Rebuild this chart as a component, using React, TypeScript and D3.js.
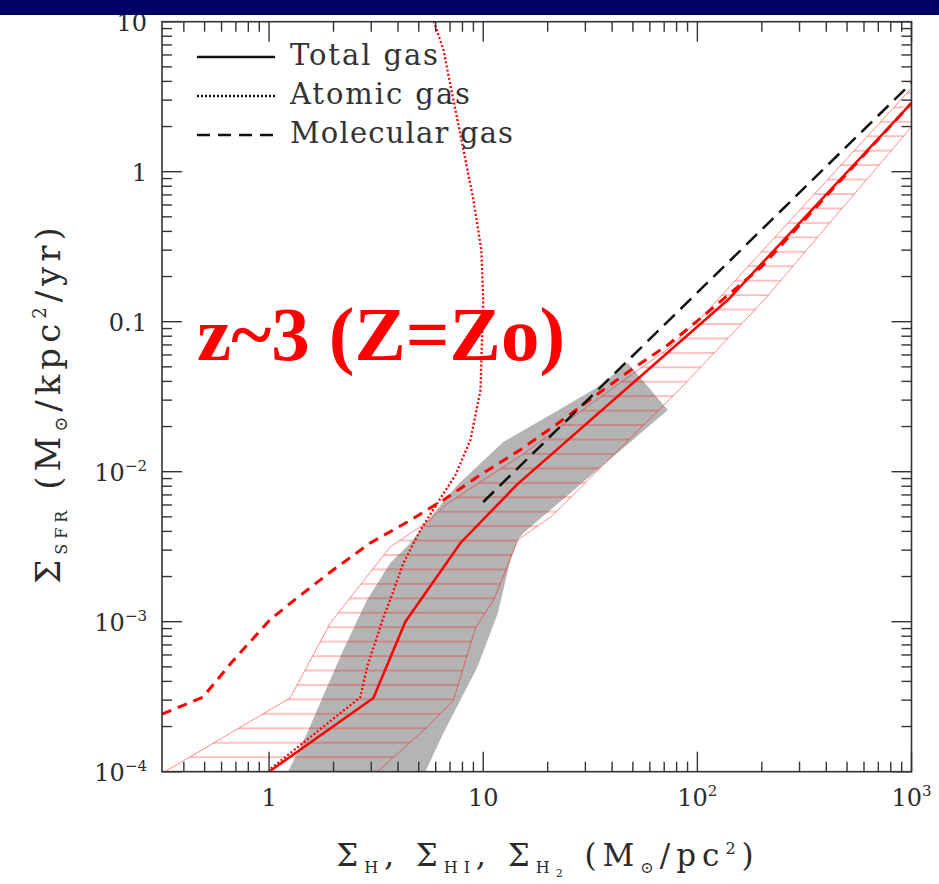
import React from 'react';
import * as d3 from 'd3';

type Pt = [number, number];

// gas surface density (Msun/pc^2) vs SFR surface density (Msun/kpc^2/yr)
const totalGas: Pt[] = [
  [1.0, 1.0e-4], [3.07, 3.1e-4], [4.33, 1.0e-3], [7.83, 3.35e-3],
  [14.5, 8.3e-3], [139, 0.14], [1000, 2.87],
];

const atomicGas: Pt[] = [
  [1.02, 1.05e-4], [2.67, 3.14e-4], [2.87, 5.0e-4], [3.42, 1.07e-3], [3.68, 1.4e-3],
  [4.24, 2.46e-3], [5.09, 4.08e-3], [6.11, 6.18e-3], [7.42, 9.5e-3], [8.72, 0.0163],
  [9.71, 0.035], [10.0, 0.14], [9.8, 0.30], [9.0, 0.65], [8.09, 1.39],
  [7.26, 3.0], [6.52, 6.47], [5.85, 10.3],
];

const molecularRed: Pt[] = [
  [0.316, 2.42e-4], [0.491, 3.14e-4], [0.679, 5.5e-4], [1.01, 1.03e-3], [1.35, 1.44e-3],
  [1.99, 2.21e-3], [2.97, 3.35e-3], [4.42, 4.62e-3], [6.52, 6.48e-3], [10.0, 9.8e-3],
  [14.9, 0.014], [21.8, 0.0205], [32.8, 0.0315], [48.9, 0.0477], [72.8, 0.070],
  [104, 0.106], [199, 0.232], [1000, 2.87],
];

const molecularBlack: Pt[] = [[10.0, 6.28e-3], [93.3, 0.142], [1000, 3.9]];

// grey band (observed region)
const greyBand: Pt[] = [
  [1.227, 1e-4], [1.505, 1.81e-4], [2.22, 6.48e-4], [2.87, 1.40e-3], [3.68, 2.46e-3],
  [4.57, 3.35e-3], [5.67, 4.99e-3], [7.58, 8.15e-3], [12.4, 0.0158], [21.3, 0.0246],
  [34.3, 0.0367], [47.4, 0.0531], [72.8, 0.0258], [15.4, 3.9e-3], [14.5, 3.5e-3],
  [13.4, 2.58e-3], [11.7, 1.14e-3], [9.4, 4.99e-4], [6.52, 1.81e-4], [5.37, 1e-4],
];

// hatched scatter region: upper edge left->right, lower edge right->left
const hatchUpper: Pt[] = [
  [0.326, 1e-4], [1.254, 3.10e-4], [1.93, 9.8e-4], [3.68, 3.15e-3], [5.67, 4.77e-3],
  [6.66, 6.0e-3], [10.0, 8.8e-3], [14.9, 0.0127], [21.8, 0.019], [32.8, 0.0292],
  [48.9, 0.0441], [72.8, 0.0658], [104, 0.106], [1000, 3.61],
];
const hatchLower: Pt[] = [
  [1000, 1.99], [205, 0.1395], [83.8, 0.0361], [20.7, 4.99e-3], [16.1, 3.9e-3],
  [14.5, 3.5e-3], [11.2, 1.4e-3], [9.2, 9.1e-4], [7.26, 3.0e-4], [5.49, 1.99e-4],
  [3.2, 1e-4],
];

const xMajor = [1, 10, 100, 1000];
const xMajorLabels: [string, string][] = [['1', ''], ['10', ''], ['10', '2'], ['10', '3']];
const yMajor = [10, 1, 0.1, 0.01, 0.001, 0.0001];
const yMajorLabels: [string, string][] = [['10', ''], ['1', ''], ['0.1', ''], ['10', '\u22122'], ['10', '\u22123'], ['10', '\u22124']];

const legendItems = [
  { label: 'Total gas', dash: 'none', len: 148 },
  { label: 'Atomic gas', dash: '2,2', len: 180 },
  { label: 'Molecular gas', dash: '13,8', len: 223 },
];

const PLOT = { left: 162, right: 911.5, top: 21.7, bottom: 771.7 };
const FONT = '"DejaVu Serif", serif';
const INK = '#2b2b2b';

export default function App() {
  const x = d3.scaleLog().domain([Math.pow(10, -0.5), 1000]).range([PLOT.left, PLOT.right]);
  const y = d3.scaleLog().domain([1e-4, 10]).range([PLOT.bottom, PLOT.top]);
  const line = d3.line<Pt>().x(d => x(d[0])).y(d => y(d[1]));
  const poly = (pts: Pt[]) => (line(pts) || '') + 'Z';

  const isMajor = (v: number) => Math.abs(Math.log10(v) - Math.round(Math.log10(v))) < 1e-6;
  const xMinor = x.ticks().filter(v => !isMajor(v));
  const yMinor = y.ticks().filter(v => !isMajor(v));
  const majLen = 20;
  const minLen = 10;

  return (
    <div style={{ position: 'absolute', left: 0, top: 0 }}>
      <svg width={939} height={884} style={{ display: 'block', background: '#fff' }}>
        <defs>
          <clipPath id="plotClip">
            <rect x={PLOT.left} y={PLOT.top} width={PLOT.right - PLOT.left} height={PLOT.bottom - PLOT.top} />
          </clipPath>
          <pattern id="hatch" patternUnits="userSpaceOnUse" x={0} y={5.3} width={20} height={14.44}>
            <line x1={0} x2={20} y1={1} y2={1} stroke="#ff0000" strokeOpacity={0.4} strokeWidth={1.2} />
          </pattern>
        </defs>

        <g clipPath="url(#plotClip)">
          <path d={poly(greyBand)} fill="#b4b4b4" stroke="none" />
          <path d={poly([...hatchUpper, ...hatchLower])} fill="url(#hatch)" stroke="#ff0000" strokeOpacity={0.45} strokeWidth={1} />
          <path d={line(atomicGas) || ''} fill="none" stroke="#ff0000" strokeWidth={2.3} strokeDasharray="2,2.2" />
          <path d={line(molecularRed) || ''} fill="none" stroke="#ff0000" strokeWidth={3} strokeDasharray="10,7" />
          <path d={line(totalGas) || ''} fill="none" stroke="#ff0000" strokeWidth={2.5} />
          <path d={line(molecularBlack) || ''} fill="none" stroke="#111" strokeWidth={2.5} strokeDasharray="15,8" />
        </g>

        {/* frame and ticks */}
        <rect x={PLOT.left} y={PLOT.top} width={PLOT.right - PLOT.left} height={PLOT.bottom - PLOT.top}
          fill="none" stroke="#333" strokeWidth={1.6} />
        <g stroke="#333" strokeWidth={1.4}>
          {xMajor.concat(xMinor).map((v, i) => {
            const len = isMajor(v) ? majLen : minLen;
            return (
              <g key={'xt' + i}>
                <line x1={x(v)} x2={x(v)} y1={PLOT.bottom} y2={PLOT.bottom - len} />
                <line x1={x(v)} x2={x(v)} y1={PLOT.top} y2={PLOT.top + len} />
              </g>
            );
          })}
          {yMajor.concat(yMinor).map((v, i) => {
            const len = isMajor(v) ? majLen : minLen;
            return (
              <g key={'yt' + i}>
                <line x1={PLOT.left} x2={PLOT.left + len} y1={y(v)} y2={y(v)} />
                <line x1={PLOT.right} x2={PLOT.right - len} y1={y(v)} y2={y(v)} />
              </g>
            );
          })}
        </g>

        {/* tick labels */}
        <g fontFamily={FONT} fill={INK} fontSize={24}>
          {xMajor.map((v, i) => (
            <text key={'xl' + i} x={x(v)} y={PLOT.bottom + 34} textAnchor="middle">
              {xMajorLabels[i][0]}
              {xMajorLabels[i][1] && <tspan fontSize={15} dy={-10}>{xMajorLabels[i][1]}</tspan>}
            </text>
          ))}
          {yMajor.map((v, i) => (
            <text key={'yl' + i} x={147} y={y(v) + 9} textAnchor="end">
              {yMajorLabels[i][0]}
              {yMajorLabels[i][1] && <tspan fontSize={15} dy={-10}>{yMajorLabels[i][1]}</tspan>}
            </text>
          ))}
        </g>

        {/* axis titles */}
        <text x={548} y={866} textAnchor="middle" fontFamily={FONT} fontSize={31} fill={INK}
          style={{ letterSpacing: '6px' }}>
          Σ<tspan fontSize={16} dy={7}>H</tspan>
          <tspan dy={-7}>, Σ</tspan><tspan fontSize={16} dy={7}>HI</tspan>
          <tspan dy={-7}>, Σ</tspan><tspan fontSize={16} dy={7}>H</tspan><tspan fontSize={11} dy={4}>2</tspan>
          <tspan dy={-11}> (M</tspan><tspan fontSize={16} dy={7}>⊙</tspan>
          <tspan dy={-7}>/pc</tspan><tspan fontSize={16} dy={-12}>2</tspan><tspan dy={12}>)</tspan>
        </text>
        <text transform="translate(60,403) rotate(-90)" textAnchor="middle" fontFamily={FONT} fontSize={34} fill={INK}
          style={{ letterSpacing: '5px' }}>
          Σ<tspan fontSize={16} dy={7}>SFR</tspan>
          <tspan dy={-7}> (M</tspan><tspan fontSize={18} dy={7}>⊙</tspan>
          <tspan dy={-7}>/kpc</tspan><tspan fontSize={18} dy={-14}>2</tspan><tspan dy={14}>/yr)</tspan>
        </text>

        {/* legend */}
        {legendItems.map((d, i) => (
          <g key={'lg' + i} transform={`translate(0, ${57 + i * 39})`}>
            <line x1={197} x2={275} y1={0} y2={0} stroke="#111" strokeWidth={2.5} strokeDasharray={d.dash} />
            <text x={290} y={8} fontFamily={FONT} fontSize={29} fill="#333" textLength={d.len} lengthAdjust="spacing">
              {d.label}
            </text>
          </g>
        ))}

        {/* annotation */}
        <text x={197} y={360} fontFamily='"Liberation Serif", serif' fontWeight="bold" fontSize={76}
          fill="#ff0000" textLength={368} lengthAdjust="spacingAndGlyphs">z~3 (Z=Zo)</text>

        {/* slide header band */}
        <rect x={0} y={0} width={939} height={15} fill="#000066" />
      </svg>
    </div>
  );
}
